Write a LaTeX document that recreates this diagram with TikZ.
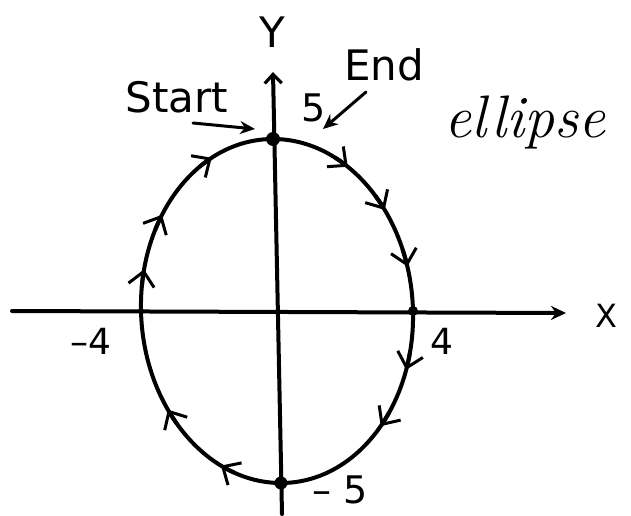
\documentclass[tikz,border=0pt]{standalone}
\usepackage{fontspec}
\usetikzlibrary{arrows.meta}
\newfontfamily\hand{DejaVu Sans}
\begin{document}
\begin{tikzpicture}[x=1pt,y=-1pt,
  ink/.style={line width=4pt, line cap=round, line join=round},
  thinink/.style={line width=3pt, line cap=round},
  lbl/.style={inner sep=0pt, font=\hand},
  dot/.style={circle, fill=black, inner sep=0pt, minimum size=#1},
  flow/.style={line width=4pt, -{Straight Barb[length=14pt,width=26pt,line width=3pt]}}]
\useasboundingbox (0,0) rectangle (631,516);
% axes
\coordinate (xs) at (12,311);
\coordinate (xe) at (566,313);
\coordinate (ys) at (282,514);
\coordinate (ye) at (273,72);
\draw[ink, -{Stealth[length=15pt,width=14pt]}] (xs) -- (xe);
\draw[ink, -{Straight Barb[length=9pt,width=17pt,line width=3.2pt]}] (ys) -- (ye);
% ellipse with flow marks
\begin{scope}[shift={(277,311)}, xslant=-0.023]
  \draw[ink] (0,0) ellipse [x radius=136, y radius=172];
  \foreach \a in {-166,-146,-117,-57,-36,-15,20,42,116,145}{
    \draw[flow] (\a-6:136 and 172) arc[start angle=\a-6, end angle=\a, x radius=136, y radius=172];
  }
  \node[dot=14pt] (top) at (-90:136 and 172) {};
  \node[dot=13pt] (bot) at (90:136 and 172) {};
  \node[dot=10pt] (rgt) at (0:136 and 172) {};
  \node[dot=6pt] (lft) at (180:136 and 172) {};
\end{scope}
% labels
\node[lbl, font=\hand\fontsize{42}{42}\selectfont] (ylab) at (272,32) {Y};
\node[lbl, font=\hand\fontsize{32}{32}\selectfont] (xlab) at (606,316) {X};
\node[lbl, font=\hand\fontsize{42}{42}\selectfont] (start) at (177,97) {Start};
\node[lbl, font=\hand\fontsize{42}{42}\selectfont] (end) at (384,65) {End};
\node[lbl, font=\hand\fontsize{38}{38}\selectfont] (five) at (314,108) {5};
\node[lbl, font=\hand\fontsize{36}{36}\selectfont] (mfour) at (91,341) {–4};
\node[lbl, font=\hand\fontsize{36}{36}\selectfont] (four) at (442,341) {4};
\node[lbl, font=\hand\fontsize{38}{38}\selectfont] (mfive) at (340,490) {– 5};
\node[inner sep=0pt, font=\fontsize{60}{60}\selectfont\itshape] (ell) at (525,122) {ellipse};
% pointer arrows
\coordinate (sa) at (193,123);
\coordinate (sb) at (255,129);
\coordinate (ea) at (366,92);
\coordinate (eb) at (323,129);
\draw[thinink, -{Stealth[length=15pt,width=13pt]}] (sa) -- (sb);
\draw[thinink, -{Stealth[length=15pt,width=13pt]}] (ea) -- (eb);
\end{tikzpicture}
\end{document}
